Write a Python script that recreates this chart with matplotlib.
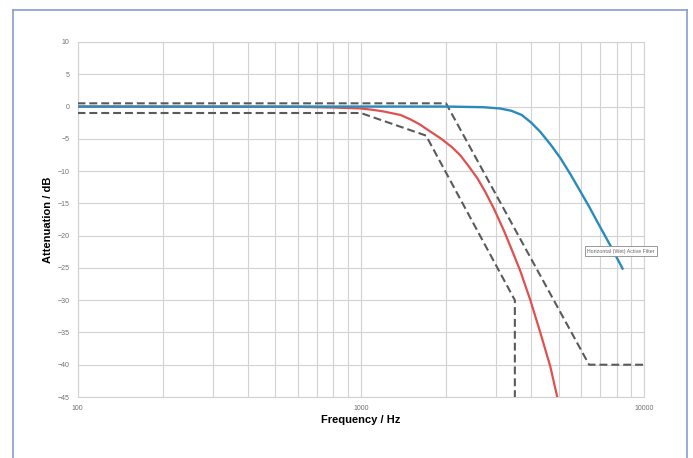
import numpy as np
import matplotlib
matplotlib.use('Agg')
import matplotlib.pyplot as plt
from matplotlib.ticker import FixedLocator, NullFormatter
from matplotlib.lines import Line2D

plt.rcParams['font.family'] = ['Liberation Sans', 'DejaVu Sans']

# active filter (blue)
f_blue = [100, 1000, 2000, 2700, 3100, 3400, 3700, 4000, 4300, 4700, 5070, 5500, 5970, 6400, 6830, 7600, 8400]
db_blue = [0, 0, 0, -0.1, -0.3, -0.65, -1.3, -2.5, -3.9, -6.0, -8.0, -10.5, -13.2, -15.5, -17.8, -21.5, -25.1]

# red response
f_red = [100, 600, 800, 1000, 1100, 1200, 1380, 1500, 1620, 1750, 1910, 2100, 2250, 2400, 2580, 2750,
         2950, 3200, 3400, 3660, 3970, 4310, 4670, 4940]
db_red = [0, -0.05, -0.15, -0.3, -0.5, -0.75, -1.3, -2.0, -2.8, -3.8, -4.9, -6.3, -7.6, -9.2, -11.1, -13.2,
          -15.8, -19.2, -22.0, -25.5, -30, -35.1, -40.3, -45]

# mask limits (dashed)
f_upper = [100, 2000, 6400, 10000]
db_upper = [0.5, 0.5, -40, -40]
f_lower = [100, 1000, 1700, 3500, 3500]
db_lower = [-1, -1, -4.5, -30, -45]

label_text = 'Horizontal (Wet) Active Filter'

fig = plt.figure(figsize=(6.93, 4.58), dpi=100)
ax = fig.add_axes([77.5/693, 1-397/458, (644-77.5)/693, (397-42)/458])

ax.plot(f_upper, db_upper, color='#5a5a5a', lw=1.5, ls=(0, (3.8, 1.9)), zorder=3)
ax.plot(f_lower, db_lower, color='#5a5a5a', lw=1.5, ls=(0, (3.8, 1.9)), zorder=3)
ax.plot(f_red, db_red, color='#e0504e', lw=1.6, zorder=4)
ax.plot(f_blue, db_blue, color='#2a8abb', lw=1.7, zorder=4)

ax.set_xscale('log')
ax.set_xlim(100, 10000)
ax.set_ylim(-45, 10)
ax.set_yticks(np.arange(-45, 11, 5))
ax.set_xticks([100, 1000, 10000])
ax.set_xticklabels(['100', '1000', '10000'])
ax.xaxis.set_minor_locator(FixedLocator([m*d for d in (100, 1000) for m in range(2, 10)]))
ax.xaxis.set_minor_formatter(NullFormatter())
ax.grid(True, which='both', color='#d2d2d2', lw=0.8)
ax.set_axisbelow(True)
ax.tick_params(which='both', length=0, labelsize=5, labelcolor='#707070', pad=6)
ax.tick_params(axis='x', pad=6)
for s in ax.spines.values():
    s.set_color('#d2d2d2')
    s.set_linewidth(0.8)

ax.set_xlabel('Frequency / Hz', fontsize=8, fontweight='bold', labelpad=2)
ax.set_ylabel('Attenuation / dB', fontsize=8, fontweight='bold', labelpad=3)

ax.text(8300, -22.4, label_text, fontsize=3.8, color='#666666', ha='center', va='center',
        bbox=dict(boxstyle='square,pad=0.5', fc='white', ec='#888888', lw=0.6), zorder=6)

# outer frame
bc = '#8a9bd0'
W, H = 693.0, 458.0
fig.add_artist(Line2D([13/W, 13/W], [0, 1-10/H], color=bc, lw=1.2))
fig.add_artist(Line2D([13/W, 687/W], [1-10/H, 1-10/H], color=bc, lw=1.2))
fig.add_artist(Line2D([687/W, 687/W], [0, 1-10/H], color=bc, lw=1.2))

fig.savefig('out.png', dpi=100)
